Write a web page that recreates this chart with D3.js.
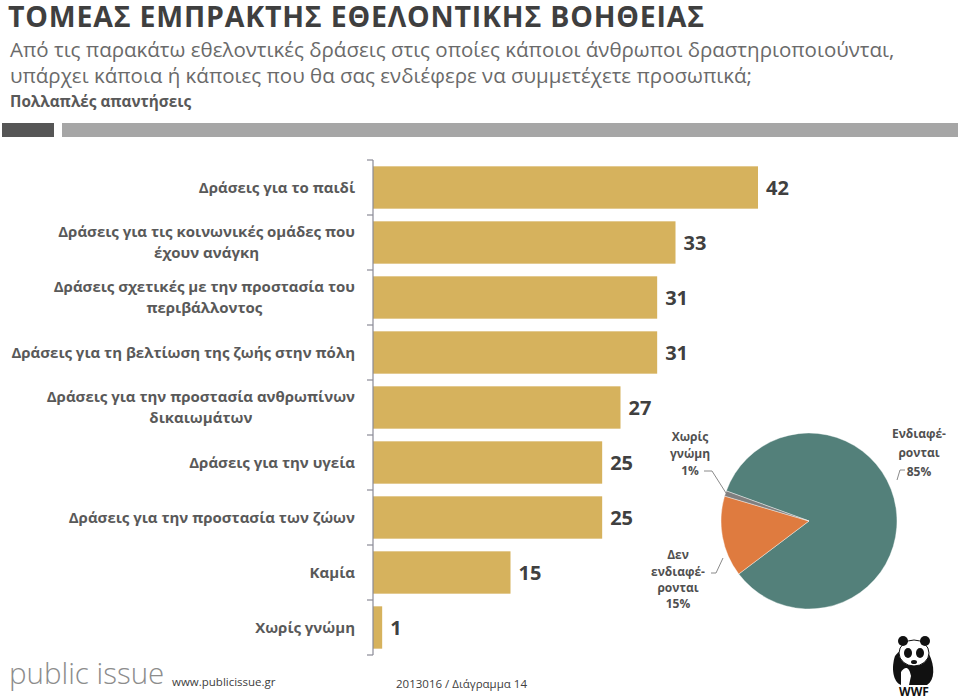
<!DOCTYPE html>
<html><head><meta charset="utf-8">
<script src="https://cdn.jsdelivr.net/npm/d3@7"></script>
<style>
html,body{margin:0;padding:0;background:#fff;}
svg{display:block;}
text{font-family:"Open Sans","Noto Sans",sans-serif;}
</style></head>
<body>
<svg id="chart" width="960" height="700"></svg>
<script>
// ---- data ----
const categories = [
  ["Δράσεις για το παιδί"],
  ["Δράσεις για τις κοινωνικές ομάδες που","έχουν ανάγκη"],
  ["Δράσεις σχετικές με την προστασία του","περιβάλλοντος"],
  ["Δράσεις για τη βελτίωση της ζωής στην πόλη"],
  ["Δράσεις για την προστασία ανθρωπίνων","δικαιωμάτων"],
  ["Δράσεις για την υγεία"],
  ["Δράσεις για την προστασία των ζώων"],
  ["Καμία"],
  ["Χωρίς γνώμη"]
];
const values = [42, 33, 31, 31, 27, 25, 25, 15, 1];
const pieLabels = [["Ενδιαφέ-","ρονται","85%"],["Δεν","ενδιαφέ-","ρονται","15%"],["Χωρίς","γνώμη","1%"]];
const pieValues = [85, 15, 1];
const pieColors = ["#53807a", "#df7b3f", "#7f7f7f"];

const svg = d3.select("#chart");

// ---- header ----
svg.append("text").attr("x", 8).attr("y", 27).attr("font-size", 28.5).attr("font-weight", 700)
  .attr("letter-spacing", 0.8)
  .attr("fill", "#3f3f3f").text("ΤΟΜΕΑΣ ΕΜΠΡΑΚΤΗΣ ΕΘΕΛΟΝΤΙΚΗΣ ΒΟΗΘΕΙΑΣ");
svg.append("text").attr("x", 10).attr("y", 57).attr("font-size", 20.5).attr("fill", "#6a6a6a")
  .text("Από τις παρακάτω εθελοντικές δράσεις στις οποίες κάποιοι άνθρωποι δραστηριοποιούνται,");
svg.append("text").attr("x", 10).attr("y", 83).attr("font-size", 20.5).attr("fill", "#6a6a6a")
  .text("υπάρχει κάποια ή κάποιες που θα σας ενδιέφερε να συμμετέχετε προσωπικά;");
svg.append("text").attr("x", 10).attr("y", 107).attr("font-size", 15.3).attr("font-weight", 700)
  .attr("fill", "#595959").text("Πολλαπλές απαντήσεις");
svg.append("rect").attr("x", 2).attr("y", 123).attr("width", 52).attr("height", 14).attr("fill", "#565656");
svg.append("rect").attr("x", 62).attr("y", 123).attr("width", 896).attr("height", 14).attr("fill", "#a6a6a6");

// ---- bar chart ----
const y = d3.scaleBand().domain(d3.range(categories.length)).range([160, 655])
  .paddingInner(0.23).paddingOuter(0.115);
const x = d3.scaleLinear().domain([0, 42]).range([373, 758]);
const step = y.step();

svg.append("g").selectAll("rect").data(values).join("rect")
  .attr("x", x(0)).attr("y", (d, i) => y(i)).attr("width", d => x(d) - x(0))
  .attr("height", y.bandwidth()).attr("fill", "#d6b25d");

// axis with ticks at band boundaries
const axisG = svg.append("g");
axisG.append("line").attr("x1", x(0)).attr("x2", x(0)).attr("y1", 160).attr("y2", 655)
  .attr("stroke", "#8a8a96").attr("stroke-width", 1.2);
axisG.selectAll("line.tick").data(d3.range(categories.length + 1)).join("line").attr("class", "tick")
  .attr("x1", x(0) - 6).attr("x2", x(0))
  .attr("y1", i => 160 + i * step).attr("y2", i => 160 + i * step)
  .attr("stroke", "#8a8a96").attr("stroke-width", 1.2);

// value labels
svg.append("g").selectAll("text").data(values).join("text")
  .attr("x", d => x(d) + 8).attr("y", (d, i) => y(i) + y.bandwidth() / 2 + 7)
  .attr("font-size", 20).attr("font-weight", 700).attr("fill", "#404040").text(d => d);

// category labels
const catG = svg.append("g");
categories.forEach((lines, i) => {
  const cy = y(i) + y.bandwidth() / 2;
  const lh = 21;
  const t = catG.append("text").attr("font-size", 15).attr("font-weight", 700).attr("fill", "#595959");
  if (lines.length === 1) {
    t.attr("x", 355).attr("y", cy + 5).attr("text-anchor", "end").text(lines[0]);
  } else {
    const t1 = t.append("tspan").attr("x", 355).attr("y", cy - lh / 2 + 5).attr("text-anchor", "end").text(lines[0]);
    const w = t1.node().getComputedTextLength();
    t.append("tspan").attr("x", 355 - w / 2).attr("y", cy + lh / 2 + 5).attr("text-anchor", "middle").text(lines[1]);
  }
});

// ---- pie ----
const cx = 809, cyP = 521, r = 88;
const pie = d3.pie().sort(null).startAngle(-70 * Math.PI / 180).endAngle(290 * Math.PI / 180);
const arc = d3.arc().innerRadius(0).outerRadius(r);
svg.append("g").attr("transform", `translate(${cx},${cyP})`)
  .selectAll("path").data(pie(pieValues)).join("path")
  .attr("d", arc).attr("fill", (d, i) => pieColors[i]).attr("stroke", "#fff").attr("stroke-width", 0.4);

// pie labels
const pl = svg.append("g").attr("font-size", 12).attr("font-weight", 700).attr("fill", "#505050").attr("text-anchor", "middle");
const labelPos = [
  {x: 919, ys: [438, 457, 476]},
  {x: 678, ys: [559, 576, 592, 608]},
  {x: 690, ys: [441, 458, 475]}
];
pieLabels.forEach((lines, i) => {
  lines.forEach((s, j) => {
    pl.append("text").attr("x", labelPos[i].x).attr("y", labelPos[i].ys[j]).text(s);
  });
});
// leader lines
const leaders = [
  [[897, 480], [900, 470], [905, 470]],
  [[711, 573], [716, 573], [723, 558]],
  [[704, 471], [712, 471], [726, 493]]
];
svg.append("g").selectAll("path").data(leaders).join("path")
  .attr("d", d => d3.line()(d)).attr("fill", "none").attr("stroke", "#8a8a8a").attr("stroke-width", 1);

// ---- footer ----
svg.append("text").attr("x", 9).attr("y", 684).attr("font-family", "DejaVu Sans").attr("font-weight", 200)
  .attr("font-size", 29.5).attr("fill", "#8c8c8c").text("public issue");
svg.append("text").attr("x", 172).attr("y", 686).attr("font-size", 11.5).attr("fill", "#404040").text("www.publicissue.gr");
svg.append("text").attr("x", 396).attr("y", 688).attr("font-size", 11.5).attr("fill", "#404040").text("2013016 / Διάγραμμα 14");

// WWF logo (simplified panda)
const logo = svg.append("g").attr("transform", "translate(887,632)");
logo.append("path").attr("d", "M8,24 C4,36 6,50 14,53 L40,53 C48,48 48,34 42,22 C36,14 16,12 8,24 Z").attr("fill", "#111");
logo.append("ellipse").attr("cx", 27).attr("cy", 21).attr("rx", 15).attr("ry", 13).attr("fill", "#fff").attr("stroke", "#111").attr("stroke-width", 1);
logo.append("circle").attr("cx", 16).attr("cy", 9).attr("r", 5).attr("fill", "#111");
logo.append("circle").attr("cx", 38).attr("cy", 9).attr("r", 5).attr("fill", "#111");
logo.append("ellipse").attr("cx", 21).attr("cy", 21).attr("rx", 4).attr("ry", 5).attr("fill", "#111");
logo.append("ellipse").attr("cx", 33).attr("cy", 21).attr("rx", 4).attr("ry", 5).attr("fill", "#111");
logo.append("ellipse").attr("cx", 27).attr("cy", 30).attr("rx", 3).attr("ry", 2).attr("fill", "#111");
logo.append("path").attr("d", "M14,40 C18,34 22,34 24,44 L22,53 L14,53 Z").attr("fill", "#fff");
logo.append("text").attr("x", 27).attr("y", 64).attr("text-anchor", "middle").attr("font-family", "Liberation Sans")
  .attr("font-weight", 700).attr("font-size", 12).attr("fill", "#111").text("WWF");
</script>
</body></html>
